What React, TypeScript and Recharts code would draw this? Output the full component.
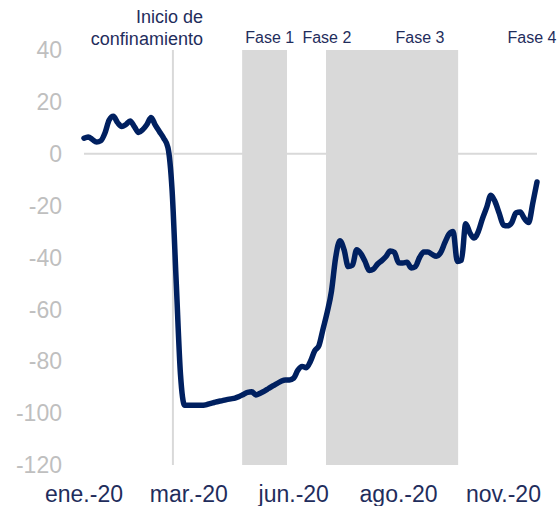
import React from "react";
import {
  LineChart,
  Line,
  XAxis,
  YAxis,
  CartesianGrid,
  ReferenceArea,
  ReferenceLine,
} from "recharts";

// índice de movilidad, variación % (lectura aproximada del gráfico)
const values = [
  6, 6.5, 5.5, 4.5, 5, 8, 13, 14.5, 12, 10.5,
  11.3, 12.6, 10.5, 8.2, 9.3, 11.3, 14, 11, 8.5, 6,
  2.5, -14, -50, -85, -97, -97, -97, -97, -97, -96.8,
  -96.3, -95.9, -95.5, -95.2, -94.8, -94.5, -94.2, -93.6, -92.8, -92,
  -91.8, -93, -92.3, -91.5, -90.5, -89.5, -88.6, -87.7, -87.2, -87.2,
  -86.5, -83.4, -82, -82.5, -80, -76, -74, -67.5, -61, -53,
  -40, -33.5, -37, -43.5, -43, -37, -38.5, -41.5, -45, -44.5,
  -42.5, -41.2, -39.6, -37.5, -38, -42, -42.1, -41.8, -44, -43.5,
  -40, -37.9, -37.9, -38.8, -39.5, -38.2, -34.4, -31, -30, -41.5,
  -41, -27, -30.5, -32.5, -30, -25, -20.7, -16, -18.5, -23,
  -27.5, -27.8, -26.5, -22.8, -22.5, -25, -26.5, -19, -10.9,
];

const tickIdx = [0, 25, 50, 75, 100];
const tickLabels = ["ene.-20", "mar.-20", "jun.-20", "ago.-20", "nov.-20"];
const yTicks = [-120, -100, -80, -60, -40, -20, 0, 20, 40];

// eventos (en la misma escala que los datos)
const confinamiento = 21.2;
const fase1 = [37.7, 48.4];
const fase23 = [57.7, 89.2];
const faseLabels = ["Fase 1", "Fase 2", "Fase 3", "Fase 4"];
const faseLabelPos = [44.3, 57.9, 80.1, 106.8];

const data = values.map((v, i) => ({ i, v }));

const FONT = "'Liberation Sans', Arial, sans-serif";
const NAVY = "#002060";
const TEXT = "#1F2D5C";

const ConfLabel = (props: any) => {
  const { viewBox } = props;
  const x = viewBox.x + 30;
  return (
    <text x={x} textAnchor="end" fontSize={18} fill={TEXT} fontFamily={FONT}>
      <tspan x={x} y={23}>Inicio de</tspan>
      <tspan x={x} y={45}>confinamiento</tspan>
    </text>
  );
};

export default function App() {
  return (
    <div style={{ position: "absolute", left: 0, top: 0 }}>
      <LineChart
        width={558}
        height={506}
        data={data}
        margin={{ top: 50, right: 21, bottom: 0, left: 0 }}
      >
        <CartesianGrid
          horizontal
          vertical={false}
          horizontalValues={[0]}
          stroke="#D9D9D9"
          strokeWidth={2}
        />
        <XAxis
          dataKey="i"
          type="number"
          domain={[0, 108]}
          ticks={tickIdx}
          interval={0}
          tickFormatter={(v: number) => tickLabels[tickIdx.indexOf(v)] ?? ""}
          axisLine={false}
          tickLine={false}
          tickSize={0}
          tickMargin={21}
          height={41}
          tick={{ fill: TEXT, fontSize: 23, fontFamily: FONT }}
        />
        <YAxis
          domain={[-120, 40]}
          ticks={yTicks}
          interval={0}
          axisLine={false}
          tickLine={false}
          tickSize={0}
          tickMargin={22}
          width={84}
          tick={{ fill: "#BFBFBF", fontSize: 23, fontFamily: FONT }}
        />
        <ReferenceArea
          x1={fase1[0]}
          x2={fase1[1]}
          y1={-120}
          y2={40}
          fill="#D9D9D9"
          fillOpacity={1}
          stroke="none"
        />
        <ReferenceArea
          x1={fase23[0]}
          x2={fase23[1]}
          y1={-120}
          y2={40}
          fill="#D9D9D9"
          fillOpacity={1}
          stroke="none"
        />
        <ReferenceLine
          x={confinamiento}
          stroke="#D9D9D9"
          strokeWidth={2}
          label={<ConfLabel />}
        />
        {faseLabels.map((f, k) => (
          <ReferenceLine
            key={f}
            x={faseLabelPos[k]}
            stroke="none"
            strokeOpacity={0}
            ifOverflow="visible"
            label={{
              value: f,
              position: "top",
              offset: 7,
              fill: TEXT,
              fontSize: 16,
              fontFamily: FONT,
            }}
          />
        ))}
        <Line
          type="monotone"
          dataKey="v"
          stroke={NAVY}
          strokeWidth={5.5}
          strokeLinejoin="round"
          strokeLinecap="round"
          dot={false}
          isAnimationActive={false}
        />
      </LineChart>
    </div>
  );
}
